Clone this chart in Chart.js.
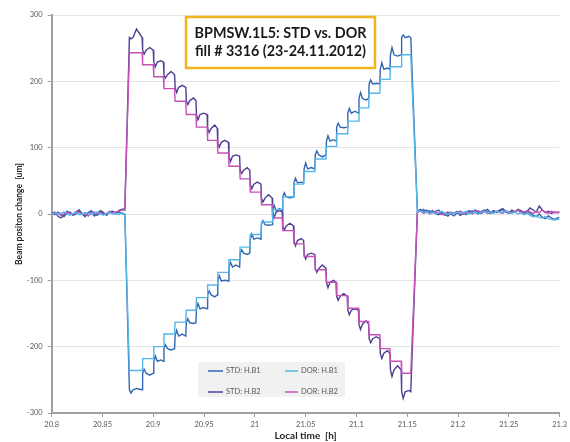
<!DOCTYPE html>
<html>
<head>
<meta charset="utf-8">
<script src="https://cdn.jsdelivr.net/npm/chart.js@4"></script>
<style>
  html, body { margin: 0; padding: 0; background: #ffffff; }
  canvas { display: block; }
</style>
</head>
<body>
<canvas id="c" width="570" height="442"></canvas>
<script>
// ---- beam position data, local time in hours, position change in um ----

// quiet period before the scan
const preTimes = [20.800, 20.803, 20.806, 20.809, 20.812, 20.815, 20.818, 20.821, 20.824, 20.827,
                  20.830, 20.833, 20.836, 20.839, 20.842, 20.845, 20.848, 20.851, 20.854, 20.857,
                  20.860, 20.863, 20.866, 20.869, 20.872];
const stdB1Pre = [2, -1, 3, 0, -4, 1, 3, -2, 0, 4, 1, -3, 2, 5, 0, -2, 3, 1, -1, 4, 2, 0, 3, 1, -1];
const dorB1Pre = [0, 2, -1, 1, 3, 0, -2, 1, 2, -1, 0, 2, 1, -1, 2, 3, 0, -2, 1, 2, 0, 1, -1, 2, 0];
const stdB2Pre = [1, 3, -3, -6, -2, 4, 2, -1, 3, 6, 0, -4, 2, 4, -3, 1, 5, 2, -2, 3, 4, 1, 5, 7, 6];
const dorB2Pre = [0, 1, 2, -2, 0, 3, 1, -1, 4, 2, 0, 1, -3, 2, 3, 0, 2, -1, 1, 3, 2, 3, 4, 6, 9];

// the scan: start of first plateau, step times, end of last plateau
const scanStart = 20.8765;
const stepTimes = [20.889, 20.900, 20.910, 20.921, 20.932, 20.942, 20.953, 20.963, 20.974, 20.985,
                   20.995, 21.006, 21.017, 21.027, 21.038, 21.048, 21.059, 21.070, 21.080, 21.091,
                   21.102, 21.112, 21.123, 21.133, 21.144];
const scanEnd = 21.1535;

// plateau levels (one per plateau)
const dorB1Levels = [-236, -218, -200, -181, -163, -145, -126, -107, -88, -69, -50, -31, -12,
                     7, 26, 45, 64, 83, 102, 121, 140, 160, 182, 203, 222, 240];
const dorB2Levels = [243, 225, 207, 189, 170, 150, 131, 111, 92, 72, 53, 33, 14,
                     -6, -25, -45, -64, -84, -103, -123, -142, -162, -182, -203, -222, -240];
const stdB1Levels = [-265, -240, -222, -203, -184, -164, -143, -122, -101, -80, -59, -38, -16,
                     5, 26, 47, 68, 89, 110, 131, 152, 174, 196, 218, 240, 266];
const stdB2Levels = [266, 247, 229, 210, 191, 171, 150, 129, 108, 87, 66, 45, 24,
                     3, -18, -40, -61, -82, -103, -124, -145, -166, -188, -210, -235, -268];
// STD overshoot shortly after each step, and the bump later in the plateau
const stdB1Spikes = [-5, 6, 8, 6, 9, 6, 8, 6, 8, 7, 5, 8, 6, 8, 6, 7, 9, 6, 8, 6, 7, 9, 6, 10, 11, 4];
const stdB1Bumps  = [2, -3, 2, -2, 3, -1, 2, -3, 1, 3, -2, 2, -1, 3, -2, 1, 2, -3, 2, -1, 3, -2, 1, 2, -2, 2];
const stdB2Spikes = [-2, -6, -7, -5, -8, -6, -8, -6, -7, -8, -5, -7, -6, -8, -6, -8, -7, -6, -8, -6, -7, -8, -6, -8, -10, -10];
const stdB2Bumps  = [13, 4, 2, 5, 3, 4, 2, 5, 3, 2, 4, 3, 5, 2, 4, 3, 2, 5, 3, 4, 2, 5, 3, 4, 6, 2];

// quiet period after the scan
const postTimes = [21.160, 21.163, 21.166, 21.169, 21.172, 21.175, 21.178, 21.181, 21.184, 21.187,
                   21.190, 21.193, 21.196, 21.199, 21.202, 21.205, 21.208, 21.211, 21.214, 21.217,
                   21.220, 21.223, 21.226, 21.229, 21.232, 21.235, 21.238, 21.241, 21.244, 21.247,
                   21.250, 21.253, 21.256, 21.259, 21.262, 21.265, 21.268, 21.271, 21.274, 21.277,
                   21.280, 21.283, 21.286, 21.289, 21.292, 21.295, 21.298, 21.300];
const stdB1Post = [6, 4, 7, 3, 5, 2, 4, 6, 1, -2, 3, 0, -3, 1, 4, 2, -1, 3, 5, 2, 0, 4, 6, 3, 1,
                   5, 2, 4, 7, 3, 1, 5, 3, 6, 2, 0, 4, 1, -2, -4, 0, -5, -7, -3, -6, -8, -6, -5];
const dorB1Post = [3, 5, 2, 4, 1, 3, 0, 2, 4, 1, -1, 2, 0, 3, 1, 2, 4, 0, 2, 3, 1, 2, 4, 2, 3,
                   1, 4, 2, 3, 5, 2, 1, 3, 0, 2, -1, 1, -2, -4, -3, -5, -6, -4, -7, -8, -9, -8, -8];
const stdB2Post = [4, 7, 3, 6, 2, 5, 1, -1, 3, 0, -3, 2, 1, 4, -2, 0, 3, 5, 2, 6, 3, 1, 4, 7, 2,
                   5, 3, 6, 8, 4, 2, 6, 3, 7, 5, 2, 4, 9, 6, 3, 12, 6, 2, 4, 1, 3, 2, 3];
const dorB2Post = [2, 5, 1, 3, 0, 2, 4, 1, -1, 2, 0, 3, 1, 2, 4, 1, 3, 2, 0, 3, 5, 2, 4, 1, 3,
                   2, 4, 3, 1, 5, 3, 2, 4, 6, 2, 3, 5, 3, 1, 4, 2, 6, 3, 1, 4, 2, 3, 2];

// axis ticks
const xTicks = [20.8, 20.85, 20.9, 20.95, 21, 21.05, 21.1, 21.15, 21.2, 21.25, 21.3];
const yTicks = [-300, -200, -100, 0, 100, 200, 300];

const seriesNames  = ['STD: H.B1', 'DOR: H.B1', 'STD: H.B2', 'DOR: H.B2'];
const seriesColors = ['#3366b0', '#55b6ea', '#4e3f91', '#c650b8'];
const seriesOrder  = [1, 0, 1, 0];   // DOR lines drawn over STD lines

const STEP_RISE = 0.0005;

// DOR: plain staircase
function dorPoints(pre, levels, post) {
  const pts = preTimes.map((t, i) => ({ x: t, y: pre[i] }));
  pts.push({ x: scanStart, y: levels[0] });
  stepTimes.forEach((t, k) => {
    pts.push({ x: t, y: levels[k] });
    pts.push({ x: t + STEP_RISE, y: levels[k + 1] });
  });
  pts.push({ x: scanEnd, y: levels[levels.length - 1] });
  postTimes.forEach((t, i) => pts.push({ x: t, y: post[i] }));
  return pts;
}

// STD: staircase with an overshoot and a bump on each plateau
function stdPoints(pre, levels, spikes, bumps, post) {
  const pts = preTimes.map((t, i) => ({ x: t, y: pre[i] }));
  const starts = [scanStart].concat(stepTimes.map(t => t + STEP_RISE));
  const ends = stepTimes.concat([scanEnd]);
  levels.forEach((lv, k) => {
    const s = starts[k];
    pts.push({ x: s, y: lv });
    pts.push({ x: s + 0.0015, y: lv + spikes[k] });
    pts.push({ x: s + 0.0035, y: lv });
    pts.push({ x: s + 0.007, y: lv + bumps[k] });
    pts.push({ x: ends[k], y: lv });
  });
  postTimes.forEach((t, i) => pts.push({ x: t, y: post[i] }));
  return pts;
}

const seriesData = [
  stdPoints(stdB1Pre, stdB1Levels, stdB1Spikes, stdB1Bumps, stdB1Post),
  dorPoints(dorB1Pre, dorB1Levels, dorB1Post),
  stdPoints(stdB2Pre, stdB2Levels, stdB2Spikes, stdB2Bumps, stdB2Post),
  dorPoints(dorB2Pre, dorB2Levels, dorB2Post)
];

const FONT = 'Lato, "Liberation Sans", sans-serif';
Chart.defaults.font.family = FONT;

// boxed title inside the plot
const titleBox = {
  id: 'titleBox',
  afterDraw(chart) {
    const ctx = chart.ctx;
    const lines = ['BPMSW.1L5: STD vs. DOR', 'fill # 3316 (23-24.11.2012)'];
    ctx.save();
    ctx.fillStyle = '#ffffff';
    ctx.fillRect(186, 17, 189, 51);
    ctx.strokeStyle = '#f2b41e';
    ctx.lineWidth = 2.5;
    ctx.strokeRect(186, 17, 189, 51);
    ctx.font = 'bold 13px ' + FONT;
    const w = Math.max(...lines.map(l => ctx.measureText(l).width));
    const size = 13 * 172 / w;
    ctx.font = 'bold ' + size.toFixed(2) + 'px ' + FONT;
    ctx.fillStyle = '#1a1a1a';
    ctx.textAlign = 'center';
    ctx.textBaseline = 'middle';
    ctx.fillText(lines[0], 280.5, 33);
    ctx.fillText(lines[1], 280.5, 51);
    ctx.restore();
  }
};

// two-column legend in a grey box
const boxLegend = {
  id: 'boxLegend',
  afterDraw(chart) {
    const ctx = chart.ctx;
    ctx.save();
    ctx.fillStyle = '#f1f1f1';
    ctx.fillRect(198, 362, 147, 35);
    ctx.font = '7.5px ' + FONT;
    ctx.textBaseline = 'middle';
    ctx.textAlign = 'left';
    const cols = [[208, 223, 226], [285, 298, 301]];
    const rows = [371, 392];
    chart.data.datasets.forEach((ds, i) => {
      const c = cols[i % 2];
      const y = rows[Math.floor(i / 2)];
      ctx.strokeStyle = ds.borderColor;
      ctx.lineWidth = 1.5;
      ctx.beginPath();
      ctx.moveTo(c[0], y);
      ctx.lineTo(c[1], y);
      ctx.stroke();
      ctx.fillStyle = '#595959';
      ctx.fillText(ds.label, c[2], y);
    });
    ctx.restore();
  }
};

new Chart(document.getElementById('c'), {
  type: 'line',
  data: {
    datasets: seriesNames.map((name, i) => ({
      label: name,
      data: seriesData[i],
      order: seriesOrder[i],
      borderColor: seriesColors[i],
      backgroundColor: seriesColors[i],
      borderWidth: 1.4,
      pointRadius: 0,
      tension: 0,
      fill: false
    }))
  },
  options: {
    responsive: false,
    animation: false,
    events: [],
    layout: { padding: { left: 0, right: 7, top: 15, bottom: 0 } },
    plugins: {
      legend: { display: false },
      tooltip: { enabled: false }
    },
    scales: {
      x: {
        type: 'linear',
        min: xTicks[0],
        max: xTicks[xTicks.length - 1],
        afterBuildTicks(scale) { scale.ticks = xTicks.map(v => ({ value: v })); },
        afterFit(scale) { scale.height = 29; },
        ticks: {
          autoSkip: false,
          maxRotation: 0,
          padding: 3,
          color: '#595959',
          font: { size: 7.5 },
          callback: v => String(+Number(v).toFixed(2))
        },
        grid: { drawOnChartArea: false, drawTicks: true, tickLength: 4, tickColor: '#a0a0a0' },
        border: { display: true, color: '#a0a0a0', width: 2 },
        title: {
          display: true,
          text: 'Local time  [h]',
          color: '#262626',
          font: { size: 10, weight: 'bold' },
          padding: { top: 0, bottom: 0 }
        }
      },
      y: {
        type: 'linear',
        min: yTicks[0],
        max: yTicks[yTicks.length - 1],
        afterBuildTicks(scale) { scale.ticks = yTicks.map(v => ({ value: v })); },
        afterFit(scale) { scale.width = 51.7; },
        ticks: {
          padding: 5,
          color: '#595959',
          font: { size: 7.5 }
        },
        grid: { color: '#e4e4e4', lineWidth: 1, drawTicks: true, tickLength: 4, tickColor: '#a0a0a0' },
        border: { display: true, color: '#a0a0a0', width: 2 },
        title: {
          display: true,
          text: 'Beam positon change  [um]',
          color: '#262626',
          font: { size: 8.5, weight: 'bold' },
          padding: { top: 14, bottom: 0 }
        }
      }
    }
  },
  plugins: [titleBox, boxLegend]
});
</script>
</body>
</html>
